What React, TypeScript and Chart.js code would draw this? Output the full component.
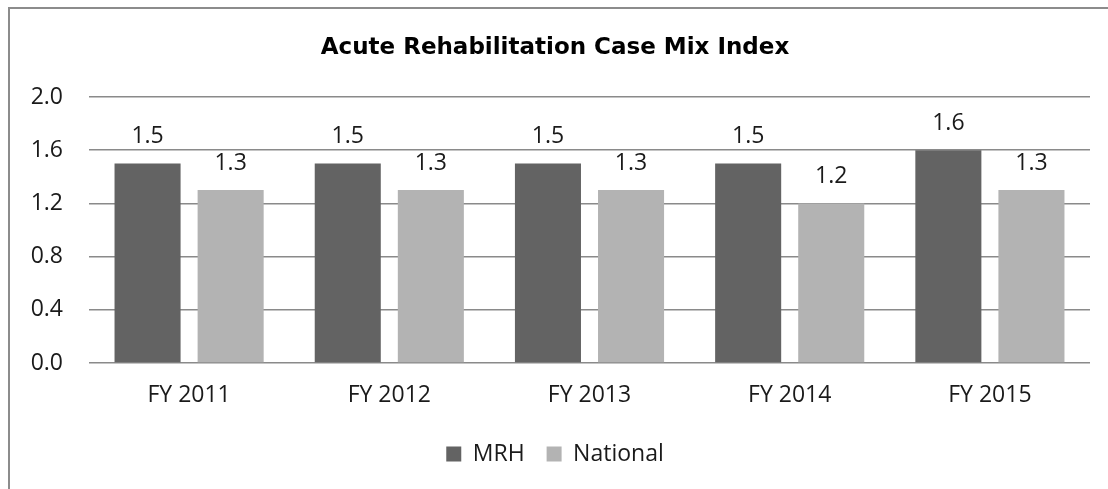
import React, { useEffect, useRef } from "react";
import { Chart, registerables } from "chart.js";

Chart.register(...registerables);

const categories = ["FY 2011", "FY 2012", "FY 2013", "FY 2014", "FY 2015"];
const mrhValues = [1.5, 1.5, 1.5, 1.5, 1.6];
const nationalValues = [1.3, 1.3, 1.3, 1.2, 1.3];
const seriesNames = ["MRH", "National"];
const titleText = "Acute Rehabilitation Case Mix Index";

const FONT = "'Open Sans', 'Noto Sans', sans-serif";
const TITLE_FONT = "'DejaVu Sans', 'Open Sans', sans-serif";
const SIZE = 23;

const valueLabels = {
  id: "valueLabels",
  afterDatasetsDraw(chart: any) {
    const ctx = chart.ctx;
    ctx.save();
    ctx.font = `${SIZE}px ${FONT}`;
    ctx.fillStyle = "#1a1a1a";
    ctx.textAlign = "center";
    ctx.textBaseline = "middle";
    chart.data.datasets.forEach((ds: any, i: number) => {
      const meta = chart.getDatasetMeta(i);
      meta.data.forEach((el: any, j: number) => {
        ctx.fillText(Number(ds.data[j]).toFixed(1), el.x, el.y - 27);
      });
    });
    ctx.restore();
  },
};

export default function App() {
  const ref = useRef<HTMLCanvasElement | null>(null);
  useEffect(() => {
    if (!ref.current) return;
    const chart = new Chart(ref.current, {
      type: "bar",
      data: {
        labels: categories,
        datasets: [
          {
            label: seriesNames[0],
            data: mrhValues,
            backgroundColor: "#636363",
            categoryPercentage: 0.83,
            barPercentage: 0.795,
          },
          {
            label: seriesNames[1],
            data: nationalValues,
            backgroundColor: "#b3b3b3",
            categoryPercentage: 0.83,
            barPercentage: 0.795,
          },
        ],
      },
      options: {
        animation: false,
        responsive: false,
        maintainAspectRatio: false,
        layout: { padding: { left: 20, right: 18, top: 0, bottom: 13.5 } },
        plugins: {
          title: {
            display: true,
            text: titleText,
            color: "#000",
            font: { family: TITLE_FONT, size: 23, weight: "bold" },
            padding: { top: 34, bottom: 35.4 },
          },
          legend: {
            position: "bottom",
            labels: {
              color: "#1a1a1a",
              font: { family: FONT, size: SIZE },
              boxWidth: 15,
              boxHeight: 15,
              padding: 22,
            },
          },
          tooltip: { enabled: false },
        },
        scales: {
          x: {
            grid: { display: false, drawTicks: false },
            border: { display: false },
            ticks: { color: "#1a1a1a", font: { family: FONT, size: SIZE }, padding: 19 },
            afterFit: (s: any) => {
              s.height = 57.5;
            },
          },
          y: {
            min: 0,
            max: 2,
            grid: { color: "#8a8a8a", lineWidth: 1.5, drawTicks: false },
            border: { display: false },
            ticks: {
              stepSize: 0.4,
              color: "#1a1a1a",
              font: { family: FONT, size: SIZE },
              padding: 26,
              callback: (v: any) => Number(v).toFixed(1),
            },
            afterFit: (s: any) => {
              s.width = 69;
            },
          },
        },
      },
      plugins: [valueLabels],
    });
    return () => chart.destroy();
  }, []);

  return (
    <>
      <canvas
        ref={ref}
        width={1108}
        height={489}
        style={{ position: "absolute", left: 0, top: 0, width: 1108, height: 489 }}
      />
      <div
        style={{
          position: "absolute",
          left: 8,
          top: 7,
          width: 1100,
          height: 482,
          boxSizing: "border-box",
          borderTop: "2px solid #8c8c8c",
          borderLeft: "2px solid #8c8c8c",
          pointerEvents: "none",
        }}
      />
    </>
  );
}
